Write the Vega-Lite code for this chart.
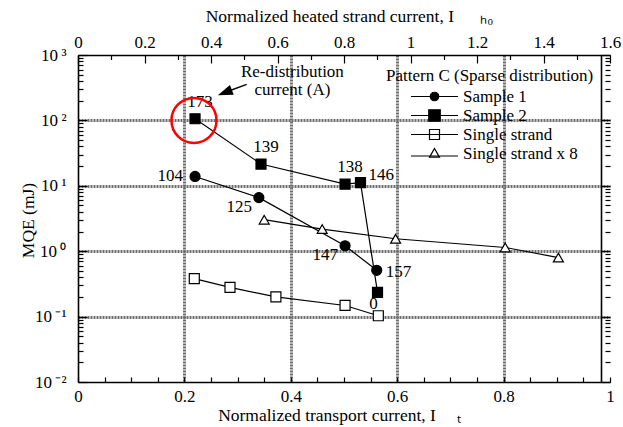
{
  "$schema": "https://vega.github.io/schema/vega-lite/v6.json",
  "autosize": "none",
  "padding": {"left": 78, "top": 55, "right": 13, "bottom": 45},
  "width": 532,
  "height": 327,
  "background": "white",
  "config": {
    "view": {"stroke": null},
    "font": "Liberation Serif",
    "axis": {
      "labelFont": "Liberation Serif", "labelFontSize": 17, "labelColor": "black",
      "titleFont": "Liberation Serif", "titleFontSize": 17.5, "titleFontWeight": "normal", "titleColor": "black",
      "domainColor": "black", "domainWidth": 1.6, "tickColor": "black", "tickWidth": 1.2,
      "gridColor": "#6e6e6e", "gridWidth": 3, "gridDash": [2, 1], "gridOpacity": 1,
      "labelFlush": false, "labelOverlap": false, "labelBound": false
    },
    "legend": {
      "labelFont": "Liberation Serif", "labelFontSize": 17, "labelColor": "black",
      "titleFont": "Liberation Serif", "titleFontSize": 17, "titleFontWeight": "normal", "titleColor": "black"
    }
  },
  "datasets": {
    "main": [
      {"series": "Sample 1", "x": 0.220, "mqe": 13.9, "label": "104", "order": 1},
      {"series": "Sample 1", "x": 0.340, "mqe": 6.6, "label": "125", "order": 2},
      {"series": "Sample 1", "x": 0.502, "mqe": 1.21, "label": "147", "order": 3},
      {"series": "Sample 1", "x": 0.5615, "mqe": 0.51, "label": "157", "order": 4},
      {"series": "Sample 2", "x": 0.220, "mqe": 106, "label": "173", "order": 1},
      {"series": "Sample 2", "x": 0.344, "mqe": 21.5, "label": "139", "order": 2},
      {"series": "Sample 2", "x": 0.502, "mqe": 10.6, "label": "138", "order": 3},
      {"series": "Sample 2", "x": 0.531, "mqe": 11.2, "label": "146", "order": 4},
      {"series": "Sample 2", "x": 0.563, "mqe": 0.234, "label": "0", "order": 5},
      {"series": "Single strand", "x": 0.2186, "mqe": 0.38, "label": null, "order": 1},
      {"series": "Single strand", "x": 0.2857, "mqe": 0.279, "label": null, "order": 2},
      {"series": "Single strand", "x": 0.372, "mqe": 0.20, "label": null, "order": 3},
      {"series": "Single strand", "x": 0.502, "mqe": 0.148, "label": null, "order": 4},
      {"series": "Single strand", "x": 0.5645, "mqe": 0.103, "label": null, "order": 5},
      {"series": "Single strand x 8", "x": 0.350, "mqe": 3.03, "label": null, "order": 1},
      {"series": "Single strand x 8", "x": 0.459, "mqe": 2.18, "label": null, "order": 2},
      {"series": "Single strand x 8", "x": 0.597, "mqe": 1.55, "label": null, "order": 3},
      {"series": "Single strand x 8", "x": 0.803, "mqe": 1.14, "label": null, "order": 4},
      {"series": "Single strand x 8", "x": 0.903, "mqe": 0.80, "label": null, "order": 5}
    ],
    "highlight": [{"x": 0.218, "mqe": 100}],
    "note": [{"x": 0.403, "mqe": 741, "text": "Re-distribution\ncurrent (A)"}],
    "arrow": [{"x": 0.317, "mqe": 356, "x2": 0.276, "mqe2": 267}]
  },
  "resolve": {"axis": {"x": "independent", "y": "independent"}, "scale": {"shape": "independent", "fill": "independent", "stroke": "independent"}},
  "layer": [
    {
      "data": {"name": "main"},
      "mark": {"type": "line", "color": "black", "strokeWidth": 1.2},
      "encoding": {
        "x": {"field": "x", "type": "quantitative", "scale": {"domain": [0, 1], "nice": false, "zero": false},
          "axis": {"orient": "bottom", "values": [0, 0.2, 0.4, 0.6, 0.8, 1], "format": "~g", "ticks": false, "grid": false, "domain": true, "labelPadding": 6, "title": "Normalized transport current, I\u2003\u2009ₜ", "titlePadding": 2, "titleX": 261}},
        "y": {"field": "mqe", "type": "quantitative", "scale": {"type": "log", "domain": [0.01, 1000], "nice": false},
          "axis": {"orient": "left", "values": [0.01, 0.1, 1, 10, 100, 1000], "labelExpr": "'10\u2009' + ['⁻²','⁻¹','⁰','¹','²','³'][round(log(datum.value)/LN10)+2]", "ticks": false, "grid": false, "domain": true, "labelPadding": 12, "title": "MQE (mJ)", "titleX": -50, "titleY": 165, "titleAngle": 270, "titleAlign": "center", "titleBaseline": "middle"}},
        "detail": {"field": "series"},
        "order": {"field": "order", "type": "quantitative"}
      }
    },
    {
      "data": {"name": "main"},
      "mark": {"type": "point", "filled": true, "stroke": "black", "strokeWidth": 1.2, "size": 100, "opacity": 1},
      "encoding": {
        "x": {"field": "x", "type": "quantitative", "scale": {"domain": [0, 1], "nice": false, "zero": false},
          "axis": {"orient": "top", "values": [0, 0.125, 0.25, 0.375, 0.5, 0.625, 0.75, 0.875, 1], "labelExpr": "format(datum.value*1.6, '.1~f')", "ticks": false, "grid": false, "domain": true, "labelPadding": 4, "title": "Normalized heated strand current, I\u2003\u2002ₕ₀", "titlePadding": 8, "titleX": 271}},
        "y": {"field": "mqe", "type": "quantitative", "scale": {"type": "log", "domain": [0.01, 1000], "nice": false},
          "axis": {"orient": "right", "values": [0.01, 0.1, 1, 10, 100, 1000], "labels": false, "grid": false, "domain": true, "ticks": true, "tickSize": 9, "offset": -9, "title": null}},
        "shape": {"field": "series", "type": "nominal", "legend": null,
          "scale": {"domain": ["Sample 1", "Sample 2", "Single strand", "Single strand x 8"], "range": ["circle", "square", "square", "triangle-up"]}},
        "fill": {"field": "series", "type": "nominal", "legend": null,
          "scale": {"domain": ["Sample 1", "Sample 2", "Single strand", "Single strand x 8"], "range": ["black", "black", "white", "white"]}}
      }
    },
    {
      "data": {"name": "main"},
      "transform": [{"filter": "false"}],
      "mark": {"type": "point", "filled": true, "strokeWidth": 1.2, "size": 100, "opacity": 1},
      "encoding": {
        "x": {"field": "x", "type": "quantitative", "scale": {"domain": [0, 1], "nice": false, "zero": false}, "axis": null},
        "y": {"field": "mqe", "type": "quantitative", "scale": {"type": "log", "domain": [0.01, 1000], "nice": false}, "axis": null},
        "shape": {"field": "series", "type": "nominal",
          "scale": {"domain": ["Sample 1", "Sample 2", "Single strand", "Single strand x 8"], "range": ["M-4.7,0H4.7M0.85,0A0.85,0.85,0,1,1,-0.85,0A0.85,0.85,0,1,1,0.85,0Z", "M-4.7,0H4.7M-1.15,-1.15H1.15V1.15H-1.15Z", "M-4.7,0H4.7M-1,-1H1V1H-1Z", "M-4.7,0.5H4.7M0,-1L1,0.75H-1Z"]},
          "legend": {"orient": "none", "legendX": 308, "legendY": 13, "title": "Pattern C (Sparse distribution)", "titleLimit": 400, "labelLimit": 300, "padding": 0, "titlePadding": 3, "rowPadding": 1, "symbolSize": 100, "symbolOffset": 40, "labelOffset": 20, "symbolStrokeWidth": 1.2, "symbolOpacity": 1}},
        "fill": {"field": "series", "type": "nominal",
          "scale": {"domain": ["Sample 1", "Sample 2", "Single strand", "Single strand x 8"], "range": ["black", "black", "white", "white"]},
          "legend": {"orient": "none", "legendX": 308, "legendY": 13, "title": "Pattern C (Sparse distribution)", "titleLimit": 400, "labelLimit": 300, "padding": 0, "titlePadding": 3, "rowPadding": 1, "symbolSize": 100, "symbolOffset": 40, "labelOffset": 20, "symbolStrokeWidth": 1.2, "symbolOpacity": 1}},
        "stroke": {"field": "series", "type": "nominal",
          "scale": {"domain": ["Sample 1", "Sample 2", "Single strand", "Single strand x 8"], "range": ["black", "black", "black", "black"]},
          "legend": {"orient": "none", "legendX": 308, "legendY": 13, "title": "Pattern C (Sparse distribution)", "titleLimit": 400, "labelLimit": 300, "padding": 0, "titlePadding": 3, "rowPadding": 1, "symbolSize": 100, "symbolOffset": 40, "labelOffset": 20, "symbolStrokeWidth": 1.2, "symbolOpacity": 1}}
      }
    },
    {
      "data": {"name": "main"},
      "transform": [{"filter": "datum.label === '173' || datum.label === '139' || datum.label === '138'"}],
      "mark": {"type": "text", "font": "Liberation Serif", "fontSize": 17, "color": "black", "align": "center", "baseline": "middle", "dx": 5, "dy": -17},
      "encoding": {
        "x": {"field": "x", "type": "quantitative", "scale": {"domain": [0, 1], "nice": false, "zero": false},
          "axis": {"orient": "bottom", "values": [0, 0.05, 0.1, 0.15, 0.2, 0.25, 0.3, 0.35, 0.4, 0.45, 0.5, 0.55, 0.6, 0.65, 0.7, 0.75, 0.8, 0.85, 0.9, 0.95, 1], "labels": false, "grid": false, "domain": false, "ticks": true, "tickSize": 5, "offset": -5, "title": null}},
        "y": {"field": "mqe", "type": "quantitative", "scale": {"type": "log", "domain": [0.01, 1000], "nice": false},
          "axis": {"orient": "left", "values": [0.01, 0.1, 1, 10, 100, 1000], "labels": false, "grid": false, "domain": false, "ticks": true, "tickSize": 9, "offset": -9, "title": null}},
        "text": {"field": "label"}
      }
    },
    {
      "data": {"name": "main"},
      "transform": [{"filter": "datum.label === '104'"}],
      "mark": {"type": "text", "font": "Liberation Serif", "fontSize": 17, "color": "black", "align": "right", "baseline": "middle", "dx": -12, "dy": 0},
      "encoding": {
        "x": {"field": "x", "type": "quantitative", "scale": {"domain": [0, 1], "nice": false, "zero": false},
          "axis": {"orient": "bottom", "values": [0.2, 0.4, 0.6, 0.8], "labels": false, "grid": true, "domain": false, "ticks": false, "title": null}},
        "y": {"field": "mqe", "type": "quantitative", "scale": {"type": "log", "domain": [0.01, 1000], "nice": false},
          "axis": {"orient": "left", "values": [0.1, 1, 10, 100], "labels": false, "grid": true, "domain": false, "ticks": false, "title": null}},
        "text": {"field": "label"}
      }
    },
    {
      "data": {"name": "main"},
      "transform": [{"filter": "datum.label === '125' || datum.label === '147'"}],
      "mark": {"type": "text", "font": "Liberation Serif", "fontSize": 17, "color": "black", "align": "right", "baseline": "middle", "dx": -7, "dy": 9},
      "encoding": {
        "x": {"field": "x", "type": "quantitative", "scale": {"domain": [0, 1], "nice": false, "zero": false},
          "axis": {"orient": "top", "values": [0.0625, 0.1875, 0.3125, 0.4375, 0.5625, 0.6875, 0.8125, 0.9375], "labels": false, "grid": false, "domain": false, "ticks": true, "tickSize": 4.5, "offset": -4.5, "title": null}},
        "y": {"field": "mqe", "type": "quantitative", "scale": {"type": "log", "domain": [0.01, 1000], "nice": false},
          "axis": {"orient": "left", "values": [0.02, 0.03, 0.04, 0.05, 0.06, 0.07, 0.08, 0.09, 0.2, 0.3, 0.4, 0.5, 0.6, 0.7, 0.8, 0.9, 2, 3, 4, 5, 6, 7, 8, 9, 20, 30, 40, 50, 60, 70, 80, 90, 200, 300, 400, 500, 600, 700, 800, 900], "labels": false, "grid": false, "domain": false, "ticks": true, "tickSize": 5, "offset": -5, "title": null}},
        "text": {"field": "label"}
      }
    },
    {
      "data": {"name": "main"},
      "transform": [{"filter": "datum.label === '157'"}],
      "mark": {"type": "text", "font": "Liberation Serif", "fontSize": 17, "color": "black", "align": "left", "baseline": "middle", "dx": 9, "dy": 2},
      "encoding": {
        "x": {"field": "x", "type": "quantitative", "scale": {"domain": [0, 1], "nice": false, "zero": false},
          "axis": {"orient": "top", "values": [0, 0.125, 0.25, 0.375, 0.5, 0.625, 0.75, 0.875, 1], "labels": false, "grid": false, "domain": false, "ticks": true, "tickSize": 8, "offset": -8, "title": null}},
        "y": {"field": "mqe", "type": "quantitative", "scale": {"type": "log", "domain": [0.01, 1000], "nice": false},
          "axis": {"orient": "right", "values": [0.02, 0.03, 0.04, 0.05, 0.06, 0.07, 0.08, 0.09, 0.2, 0.3, 0.4, 0.5, 0.6, 0.7, 0.8, 0.9, 2, 3, 4, 5, 6, 7, 8, 9, 20, 30, 40, 50, 60, 70, 80, 90, 200, 300, 400, 500, 600, 700, 800, 900], "labels": false, "grid": false, "domain": false, "ticks": true, "tickSize": 5, "offset": -5, "title": null}},
        "text": {"field": "label"}
      }
    },
    {
      "data": {"name": "main"},
      "transform": [{"filter": "datum.label === '146'"}],
      "mark": {"type": "text", "font": "Liberation Serif", "fontSize": 17, "color": "black", "align": "left", "baseline": "middle", "dx": 8, "dy": -8},
      "encoding": {
        "x": {"field": "x", "type": "quantitative", "scale": {"domain": [0, 1], "nice": false, "zero": false}, "axis": null},
        "y": {"field": "mqe", "type": "quantitative", "scale": {"type": "log", "domain": [0.01, 1000], "nice": false}, "axis": null},
        "text": {"field": "label"}
      }
    },
    {
      "data": {"name": "main"},
      "transform": [{"filter": "datum.label === '0'"}],
      "mark": {"type": "text", "font": "Liberation Serif", "fontSize": 17, "color": "black", "align": "center", "baseline": "middle", "dx": -4, "dy": 12},
      "encoding": {
        "x": {"field": "x", "type": "quantitative", "scale": {"domain": [0, 1], "nice": false, "zero": false}, "axis": null},
        "y": {"field": "mqe", "type": "quantitative", "scale": {"type": "log", "domain": [0.01, 1000], "nice": false}, "axis": null},
        "text": {"field": "label"}
      }
    },
    {
      "data": {"name": "highlight"},
      "mark": {"type": "point", "shape": "circle", "size": 2025, "filled": false, "stroke": "#ff0000", "strokeWidth": 2.5, "opacity": 1},
      "encoding": {
        "x": {"field": "x", "type": "quantitative", "scale": {"domain": [0, 1], "nice": false, "zero": false}, "axis": null},
        "y": {"field": "mqe", "type": "quantitative", "scale": {"type": "log", "domain": [0.01, 1000], "nice": false}, "axis": null}
      }
    },
    {
      "data": {"name": "note"},
      "mark": {"type": "text", "font": "Liberation Serif", "fontSize": 17, "color": "black", "align": "center", "baseline": "top", "lineBreak": "\n", "lineHeight": 18.5},
      "encoding": {
        "x": {"field": "x", "type": "quantitative", "scale": {"domain": [0, 1], "nice": false, "zero": false}, "axis": null},
        "y": {"field": "mqe", "type": "quantitative", "scale": {"type": "log", "domain": [0.01, 1000], "nice": false}, "axis": null},
        "text": {"field": "text"}
      }
    },
    {
      "data": {"name": "arrow"},
      "mark": {"type": "rule", "color": "black", "strokeWidth": 1.5},
      "encoding": {
        "x": {"field": "x", "type": "quantitative", "scale": {"domain": [0, 1], "nice": false, "zero": false}, "axis": null},
        "y": {"field": "mqe", "type": "quantitative", "scale": {"type": "log", "domain": [0.01, 1000], "nice": false}, "axis": null},
        "x2": {"field": "x2"},
        "y2": {"field": "mqe2"}
      }
    },
    {
      "data": {"name": "arrow"},
      "mark": {"type": "point", "shape": "M0,-1L0.7,1L-0.7,1Z", "size": 225, "filled": true, "color": "black", "angle": 249, "opacity": 1},
      "encoding": {
        "x": {"field": "x2", "type": "quantitative", "scale": {"domain": [0, 1], "nice": false, "zero": false}, "axis": null},
        "y": {"field": "mqe2", "type": "quantitative", "scale": {"type": "log", "domain": [0.01, 1000], "nice": false}, "axis": null}
      }
    }
  ]
}
